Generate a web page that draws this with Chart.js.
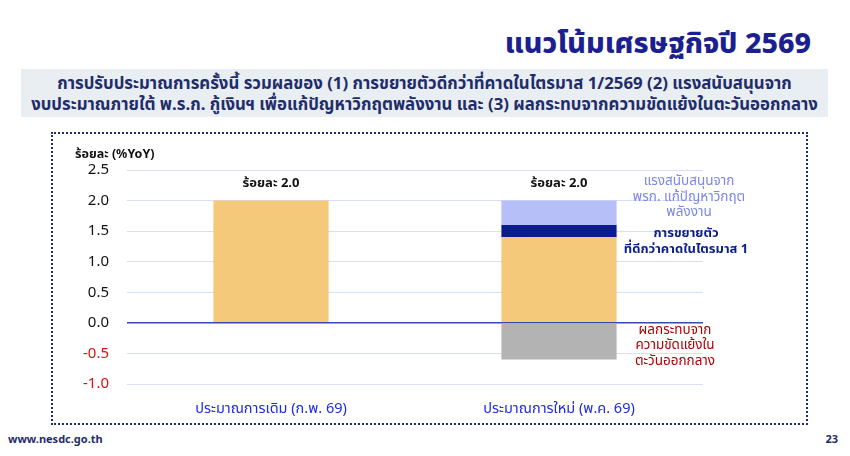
<!DOCTYPE html>
<html>
<head>
<meta charset="utf-8">
<script src="https://cdn.jsdelivr.net/npm/chart.js@4"></script>
<style>
  body { margin: 0; width: 850px; height: 456px; background: #fff; position: relative; overflow: hidden;
         font-family: "Noto Sans", "Noto Sans Thai", sans-serif; }
  #title { position: absolute; right: 39px; top: 22px; font-size: 28.6px; font-weight: 800; color: #1b1f8f; }
  #sub { position: absolute; left: 21px; top: 69px; width: 807px; height: 48px; background: #e9eef3;
         color: #1f2d6b; font-size: 16.8px; font-weight: 700; text-align: center; line-height: 21px;
         box-sizing: border-box; padding-top: 3px; white-space: nowrap; }
  #box2 { position: absolute; left: 51px; top: 132px; width: 757px; height: 293px;
         border: 2px dotted #1f2d6b; box-sizing: border-box; }
  #wrap { position: absolute; left: 52px; top: 143px; width: 756px; height: 282px; }
  #foot { position: absolute; left: 8px; top: 431px; font-size: 11px; font-weight: 700; color: #1f2d6b; }
  #page { position: absolute; right: 12px; top: 431px; font-size: 11px; font-weight: 700; color: #1f2d6b; }
</style>
</head>
<body>
<div id="title">แนวโน้มเศรษฐกิจปี 2569</div>
<div id="sub">การปรับประมาณการครั้งนี้ รวมผลของ (1) การขยายตัวดีกว่าที่คาดในไตรมาส 1/2569 (2) แรงสนับสนุนจาก<br>งบประมาณภายใต้ พ.ร.ก. กู้เงินฯ เพื่อแก้ปัญหาวิกฤตพลังงาน และ (3) ผลกระทบจากความขัดแย้งในตะวันออกกลาง</div>
<div id="box2"></div>
<div id="wrap"><canvas id="myChart"></canvas></div>
<div id="foot">www.nesdc.go.th</div>
<div id="page">23</div>
<script>
const categories = ['ประมาณการเดิม (ก.พ. 69)', 'ประมาณการใหม่ (พ.ค. 69)'];
const baseValues = [2.0, 1.4];
const q1Values = [0, 0.2];
const energyValues = [0, 0.4];
const conflictValues = [0, -0.6];
const totalLabels = ['ร้อยละ 2.0', 'ร้อยละ 2.0'];
const totals = [2.0, 2.0];
const yTitle = 'ร้อยละ (%YoY)';
const energyNote = ['แรงสนับสนุนจาก', 'พรก. แก้ปัญหาวิกฤต', 'พลังงาน'];
const q1Note = ['การขยายตัว', 'ที่ดีกว่าคาดในไตรมาส 1'];
const conflictNote = ['ผลกระทบจาก', 'ความขัดแย้งใน', 'ตะวันออกกลาง'];

const FONT = '"Noto Sans", "Noto Sans Thai", sans-serif';

const notes = {
  id: 'notes',
  afterDatasetsDraw(chart) {
    const ctx = chart.ctx;
    const y = chart.scales.y;
    const x = chart.scales.x;
    ctx.save();
    ctx.textAlign = 'left';
    ctx.textBaseline = 'middle';
    ctx.fillStyle = '#111';
    ctx.font = 'bold 12.5px ' + FONT;
    ctx.fillText(yTitle, 23, 11);

    ctx.textAlign = 'center';
    ctx.font = 'bold 13px ' + FONT;
    totalLabels.forEach((t, i) => {
      ctx.fillText(t, x.getPixelForValue(i), y.getPixelForValue(totals[i]) - 17);
    });

    const drawLines = (lines, cx, cy, color, font) => {
      ctx.fillStyle = color;
      ctx.font = font;
      const h = 15.5;
      lines.forEach((l, k) => {
        ctx.fillText(l, cx, cy + (k - (lines.length - 1) / 2) * h);
      });
    };
    const i = 1;
    drawLines(energyNote, 637, y.getPixelForValue(totals[i]) - 3.5, '#7b86ea', '13.5px ' + FONT);
    drawLines(q1Note, 634, y.getPixelForValue(baseValues[i] + q1Values[i] / 2) + 10, '#0b1d8c', 'bold 13px ' + FONT);
    drawLines(conflictNote, 623, y.getPixelForValue(conflictValues[i]) - 14, '#b00000', '13.5px ' + FONT);
    ctx.restore();
  }
};

new Chart(document.getElementById('myChart'), {
  type: 'bar',
  data: {
    labels: categories,
    datasets: [
      { label: 'base', data: baseValues, backgroundColor: '#f5c97a' },
      { label: 'q1', data: q1Values, backgroundColor: '#0b1d8c' },
      { label: 'energy', data: energyValues, backgroundColor: '#b6bff7' },
      { label: 'conflict', data: conflictValues, backgroundColor: '#b3b3b3' }
    ]
  },
  options: {
    responsive: true,
    maintainAspectRatio: false,
    animation: false,
    datasets: { bar: { categoryPercentage: 1, barPercentage: 0.4, borderWidth: 0 } },
    layout: { padding: { top: 26, right: 105, left: 0, bottom: 0 } },
    plugins: { legend: { display: false }, tooltip: { enabled: false } },
    scales: {
      x: {
        stacked: true,
        grid: { display: false, drawTicks: false },
        border: { display: false },
        ticks: { color: '#1e2ce0', font: { size: 14.5, family: FONT }, padding: 16 },
        afterFit(a) { a.height = 41; }
      },
      y: {
        stacked: true,
        min: -1, max: 2.5,
        ticks: {
          stepSize: 0.5,
          padding: 18,
          font: { size: 15, family: FONT },
          color: c => c.tick.value < 0 ? '#e01010' : '#111',
          callback: v => v.toFixed(1)
        },
        grid: {
          drawTicks: false,
          color: c => c.tick.value === 0 ? '#3a48b0' : '#d8ddf8',
          lineWidth: c => c.tick.value === 0 ? 1.5 : 1
        },
        border: { display: false },
        afterFit(a) { a.width = 75; }
      }
    }
  },
  plugins: [notes]
});
</script>
</body>
</html>
